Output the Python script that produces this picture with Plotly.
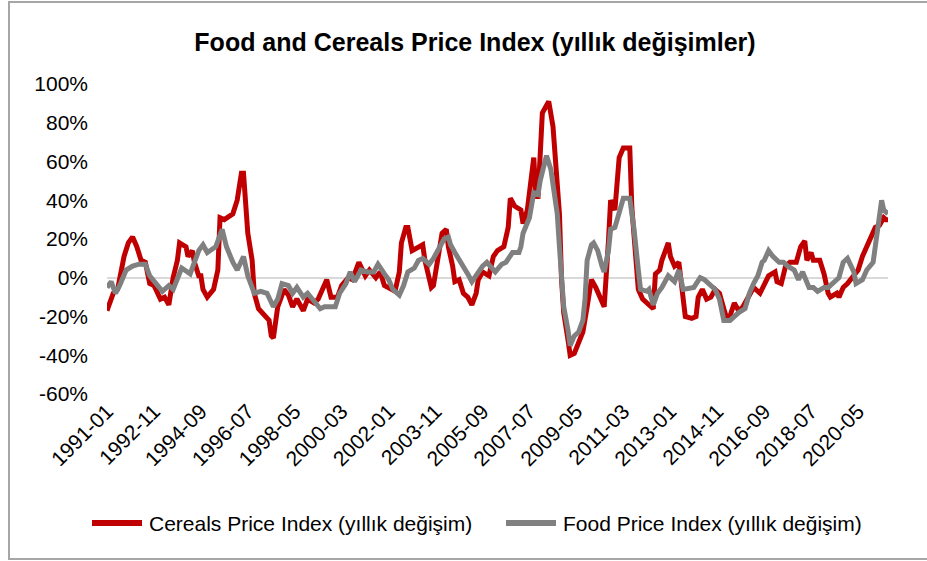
import plotly.graph_objects as go

# Month offsets from 1991-01 and values (% yearly change)
cereal_months = [0, 3, 5, 8, 10, 12, 14, 16, 18, 20, 22, 25, 27, 29, 31, 33, 34, 37, 38, 40, 41, 43, 44, 45, 47, 50,
                 52, 53, 55, 59, 61, 63, 64, 66, 68, 69, 71, 74, 76, 77, 78, 80, 83, 85, 87, 89, 92, 94, 97, 99, 101,
                 103, 105, 108, 110, 113, 115, 118, 121, 123, 126, 128, 130, 133, 135, 137, 138, 140, 141, 143, 145,
                 148, 149, 151, 152, 153, 155, 157, 159, 160, 162, 163, 165, 167, 169, 171, 173, 174, 176, 179, 181,
                 183, 186, 188, 189, 191, 194, 195, 197, 198, 200, 201, 202, 204, 206, 207, 209, 210, 212, 213, 214,
                 216, 217, 219, 221, 223, 225, 227, 229, 231, 233, 235, 236, 238, 240, 242, 245, 246, 248, 249, 251,
                 253, 256, 257, 259, 260, 263, 264, 266, 268, 270, 271, 274, 276, 277, 279, 281, 283, 285, 287, 289,
                 291, 294, 296, 298, 300, 303, 306, 308, 310, 313, 314, 316, 318, 320, 323, 325, 327, 328, 330, 331,
                 334, 336, 338, 339, 342, 343, 345, 347, 350, 352, 354, 357, 358, 360, 362, 364, 365, 366]
cereal_values = [-17, -8, -6, 11, 18, 21, 16, 9, 8, -3, -4, -11, -10, -14, 0, 9, 18, 16, 11, 14, 8, 1, 1, -6, -10, -6,
                 4, 31, 30, 33, 40, 54, 54, 23, 9, -8, -16, -20, -22, -30, -31, -15, -6, -9, -15, -11, -17, -11, -13,
                 -11, -6, -1, -10, -10, -4, 0, -1, 8, 1, 4, 0, 3, -4, -6, -7, 3, 18, 26, 26, 14, 15, 17, 9, 1, -5, -4,
                 8, 23, 25, 16, 6, -2, -1, -8, -10, -14, -8, -1, 3, 1, 11, 14, 16, 26, 41, 37, 35, 28, 35, 45, 62, 42,
                 42, 85, 90, 91, 78, 62, 33, -1, -18, -32, -40, -39, -33, -28, -15, -1, -5, -10, -15, 19, 40, 35, 62,
                 67, 67, 36, 4, -6, -11, -13, -16, 2, 4, 9, 18, 11, 6, 8, -8, -20, -21, -20, -10, -6, -11, -10, -6, -8,
                 -16, -23, -13, -17, -15, -11, -5, -8, -3, 1, 3, -2, -3, 6, 8, 8, 16, 19, 9, 13, 9, 9, 2, -8, -10, -8,
                 -10, -5, -3, 1, 4, 11, 19, 21, 26, 27, 31, 30, 30]

food_months = [0, 2, 4, 6, 9, 12, 15, 18, 20, 24, 26, 29, 31, 35, 39, 43, 45, 47, 51, 54, 56, 59, 61, 64, 66, 69, 72,
               75, 78, 80, 82, 85, 87, 89, 92, 94, 98, 100, 102, 105, 107, 109, 112, 114, 116, 119, 122, 125, 127, 130,
               132, 134, 137, 139, 141, 144, 146, 148, 151, 153, 155, 158, 160, 161, 163, 166, 169, 171, 174, 176, 178,
               180, 182, 185, 187, 190, 193, 194, 195, 198, 200, 202, 203, 205, 206, 208, 209, 211, 212, 213, 214, 216,
               217, 219, 221, 223, 224, 225, 227, 228, 230, 232, 233, 235, 236, 238, 239, 241, 242, 245, 247, 249, 250,
               253, 254, 256, 258, 260, 262, 263, 266, 268, 270, 273, 275, 278, 280, 282, 285, 287, 289, 292, 294, 296,
               299, 301, 303, 305, 307, 308, 310, 312, 315, 317, 319, 322, 324, 326, 329, 331, 333, 336, 338, 340, 343,
               345, 347, 350, 351, 354, 356, 359, 360, 362, 363, 364, 366]
food_values = [-5, -2, -8, -4, 4, 6, 7, 7, 1, -5, -7, -4, -6, 5, 2, 14, 17, 13, 16, 25, 16, 8, 4, 11, 1, -8, -7, -8,
               -15, -11, -3, -4, -8, -5, -10, -8, -13, -16, -15, -15, -15, -8, -3, 3, -2, 4, 3, 3, 7, 2, -1, -6, -9,
               -4, 3, 5, 9, 10, 7, 10, 14, 20, 21, 17, 13, 8, 2, -2, 3, 6, 8, 5, 3, 7, 8, 13, 13, 16, 23, 31, 44, 43,
               50, 59, 63, 56, 47, 33, 16, -1, -15, -27, -35, -30, -28, -22, -11, 9, 17, 18, 14, 6, 3, 14, 25, 26, 30,
               38, 41, 41, 25, 4, -6, -7, -6, -14, -8, -5, -1, 1, -2, 4, -6, -5, -5, 0, -1, -3, -6, -11, -22, -22, -20,
               -18, -16, -8, -3, 1, 8, 9, 14, 11, 8, 8, 6, 4, -1, 3, -5, -5, -7, -5, -5, -3, 0, 8, 10, 3, -3, -1, 4, 8,
               16, 28, 40, 35, 33]

tick_labels = ["1991-01", "1992-11", "1994-09", "1996-07", "1998-05", "2000-03", "2002-01", "2003-11", "2005-09",
               "2007-07", "2009-05", "2011-03", "2013-01", "2014-11", "2016-09", "2018-07", "2020-05"]
y_ticks = [-60, -40, -20, 0, 20, 40, 60, 80, 100]
y_tick_labels = ["-60%", "-40%", "-20%", "0%", "20%", "40%", "60%", "80%", "100%"]
series_names = ["Cereals Price Index (yıllık değişim)", "Food Price Index (yıllık değişim)"]
series_colors = ["#C00000", "#808080"]


def to_date(m):
    y = 1991 + m // 12
    mo = m % 12 + 1
    return f"{y:04d}-{mo:02d}-01"


cereal_x = [to_date(m) for m in cereal_months]
food_x = [to_date(m) for m in food_months]
tick_vals = [t + "-01" for t in tick_labels]

W, H = 927, 561
L, R, T, B = 107, 39, 84, 167
pw, ph = W - L - R, H - T - B

fig = go.Figure()
fig.add_trace(go.Scatter(x=cereal_x, y=cereal_values, mode="lines", name=series_names[0],
                         line=dict(color=series_colors[0], width=5)))
fig.add_trace(go.Scatter(x=food_x, y=food_values, mode="lines", name=series_names[1],
                         line=dict(color=series_colors[1], width=5)))

font = "Liberation Sans, Arial, sans-serif"


def px_x(p):
    return (p - L) / pw


def px_y(p):
    return (H - B - p) / ph


# manual legend (longer line samples like the original)
legend_y = 523
legend_items = [(92, 142, 147), (506, 556, 561)]
shapes = [dict(type="rect", xref="paper", yref="paper", x0=px_x(9), x1=px_x(940), y0=px_y(559), y1=px_y(2),
               line=dict(color="#A6A6A6", width=2), layer="below")]
annotations = []
for (x0, x1, xt), name, col in zip(legend_items, series_names, series_colors):
    shapes.append(dict(type="line", xref="paper", yref="paper", x0=px_x(x0), x1=px_x(x1),
                       y0=px_y(legend_y), y1=px_y(legend_y), line=dict(color=col, width=6)))
    annotations.append(dict(xref="paper", yref="paper", x=px_x(xt), y=px_y(legend_y), xanchor="left",
                            yanchor="middle", text=name, showarrow=False, font=dict(size=21, family=font)))

fig.update_layout(
    width=W, height=H,
    margin=dict(l=L, r=R, t=T, b=B, autoexpand=False),
    paper_bgcolor="white", plot_bgcolor="white",
    font=dict(family=font, color="black", size=20),
    title=dict(text="<b>Food and Cereals Price Index (yıllık değişimler)</b>", x=475 / W, xanchor="center",
               y=1 - 42 / H, yanchor="middle", font=dict(size=25, family=font)),
    showlegend=False,
    xaxis=dict(type="date", range=["1991-01-01", "2021-07-01"], tickvals=tick_vals, ticktext=tick_labels,
               tickangle=-45, showgrid=False, showline=False, zeroline=False, ticks="", automargin=False,
               tickfont=dict(size=21, family=font)),
    yaxis=dict(range=[-60, 100], tickvals=y_ticks, ticktext=y_tick_labels, showgrid=False, zeroline=True,
               zerolinecolor="#D9D9D9", zerolinewidth=2, showline=False, ticks="", automargin=False,
               ticklabelstandoff=18, tickfont=dict(size=21, family=font)),
    shapes=shapes,
    annotations=annotations,
)

fig.write_html("out.html", config={"displayModeBar": False},
               post_script="document.body.style.margin='0px';")
